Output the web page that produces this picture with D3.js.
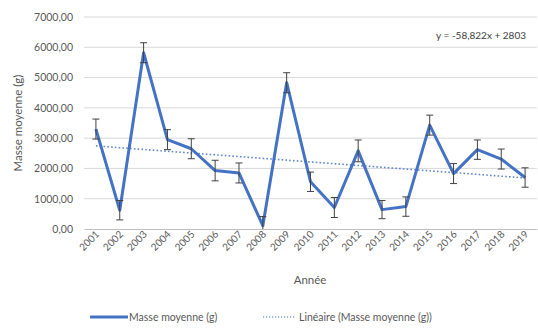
<!DOCTYPE html>
<html>
<head>
<meta charset="utf-8">
<script src="https://cdn.jsdelivr.net/npm/d3@7"></script>
<style>
  html, body { margin: 0; padding: 0; background: #fff; }
  svg { display: block; font-family: Lato, "Open Sans", sans-serif; }
</style>
</head>
<body>
<svg id="chart" width="538" height="329"></svg>
<script>
// Mean mass per year with error bars and linear trend
const years = ["2001","2002","2003","2004","2005","2006","2007","2008","2009","2010",
               "2011","2012","2013","2014","2015","2016","2017","2018","2019"];
const masses = [3300, 620, 5820, 2950, 2650, 1930, 1850, 110, 4830, 1560,
                710, 2580, 640, 740, 3430, 1830, 2620, 2310, 1700];
const errors = [330, 320, 330, 330, 330, 340, 330, 300, 330, 320,
                330, 360, 300, 320, 330, 330, 320, 330, 320];
const yTicks = [0, 1000, 2000, 3000, 4000, 5000, 6000, 7000];
const trendSlope = -58.822;
const trendIntercept = 2803;
const equationText = "y = -58,822x + 2803";
const seriesName = "Masse moyenne (g)";
const trendName = "Linéaire (Masse moyenne (g))";
const xTitle = "Année";
const yTitle = "Masse moyenne (g)";

const svg = d3.select("#chart");
const plotL = 84, plotR = 537, plotT = 17, plotB = 229;
const blue = "#4472C4";

const x = d3.scaleBand().domain(years).range([plotL, plotR]);
const y = d3.scaleLinear().domain([0, 7000]).range([plotB, plotT]);
const cx = d => x(d) + x.bandwidth() / 2;

const fmt = v => d3.format(".2f")(v).replace(".", ",");

// Horizontal gridlines
svg.append("g").selectAll("line").data(yTicks.filter(t => t > 0)).join("line")
  .attr("x1", plotL).attr("x2", plotR)
  .attr("y1", d => y(d)).attr("y2", d => y(d))
  .attr("stroke", "#d9d9d9").attr("stroke-width", 1);

// Y axis labels
const yAxis = svg.append("g").attr("transform", `translate(${plotL},0)`)
  .call(d3.axisLeft(y).tickValues(yTicks).tickFormat(fmt).tickSize(0).tickPadding(11));
yAxis.select(".domain").remove();
yAxis.selectAll("text").attr("fill", "#595959").attr("font-size", 10.5)
  .attr("font-family", "Lato, sans-serif");

// X axis baseline and rotated labels
const xAxis = svg.append("g").attr("transform", `translate(0,${plotB})`)
  .call(d3.axisBottom(x).tickSize(0).tickPadding(0));
xAxis.select(".domain").attr("stroke", "#bfbfbf");
xAxis.selectAll("text")
  .attr("fill", "#595959").attr("font-size", 10).attr("font-family", "Lato, sans-serif")
  .attr("text-anchor", "end").attr("dy", null).attr("y", 0)
  .attr("transform", "translate(4,6) rotate(-45)");

// Linear trend
const idx = years.map((d, i) => i + 1);
svg.append("path")
  .datum([idx[0], idx[idx.length - 1]])
  .attr("d", d3.line()
    .x(i => cx(years[i - 1]))
    .y(i => y(trendSlope * i + trendIntercept)))
  .attr("fill", "none").attr("stroke", blue).attr("stroke-width", 1.6)
  .attr("stroke-dasharray", "1.6,2.2").attr("opacity", 0.85);

// Main series
svg.append("path").datum(masses)
  .attr("d", d3.line().x((d, i) => cx(years[i])).y(d => y(d)))
  .attr("fill", "none").attr("stroke", blue).attr("stroke-width", 3)
  .attr("stroke-linejoin", "round");

// Error bars
svg.append("defs").append("clipPath").attr("id", "plotClip")
  .append("rect").attr("x", plotL).attr("y", plotT - 10)
  .attr("width", plotR - plotL).attr("height", plotB - plotT + 10);
const eb = svg.append("g").attr("clip-path", "url(#plotClip)")
  .attr("stroke", "#404040").attr("stroke-width", 1);
masses.forEach((m, i) => {
  const px = cx(years[i]);
  const lo = y(m - errors[i]), hi = y(m + errors[i]);
  eb.append("line").attr("x1", px).attr("x2", px).attr("y1", lo).attr("y2", hi);
  eb.append("line").attr("x1", px - 3.5).attr("x2", px + 3.5).attr("y1", lo).attr("y2", lo);
  eb.append("line").attr("x1", px - 3.5).attr("x2", px + 3.5).attr("y1", hi).attr("y2", hi);
});

// Trend equation
svg.append("text").attr("x", 526).attr("y", 39).attr("text-anchor", "end")
  .attr("font-size", 10).attr("fill", "#404040").text(equationText);

// Axis titles
svg.append("text").attr("x", 310).attr("y", 284).attr("text-anchor", "middle")
  .attr("font-size", 11.5).attr("fill", "#595959").text(xTitle);
svg.append("text").attr("transform", `translate(22,${(plotT + plotB) / 2}) rotate(-90)`)
  .attr("text-anchor", "middle").attr("font-size", 11.5).attr("fill", "#595959").text(yTitle);

// Legend
const lg = svg.append("g").attr("font-size", 10.5).attr("fill", "#595959");
lg.append("line").attr("x1", 90).attr("x2", 128).attr("y1", 317).attr("y2", 317)
  .attr("stroke", blue).attr("stroke-width", 3);
lg.append("text").attr("x", 129).attr("y", 321).text(seriesName);
lg.append("line").attr("x1", 263).attr("x2", 296).attr("y1", 317).attr("y2", 317)
  .attr("stroke", blue).attr("stroke-width", 1.2).attr("stroke-dasharray", "1.2,1.8");
lg.append("text").attr("x", 299).attr("y", 321).text(trendName);
</script>
</body>
</html>
